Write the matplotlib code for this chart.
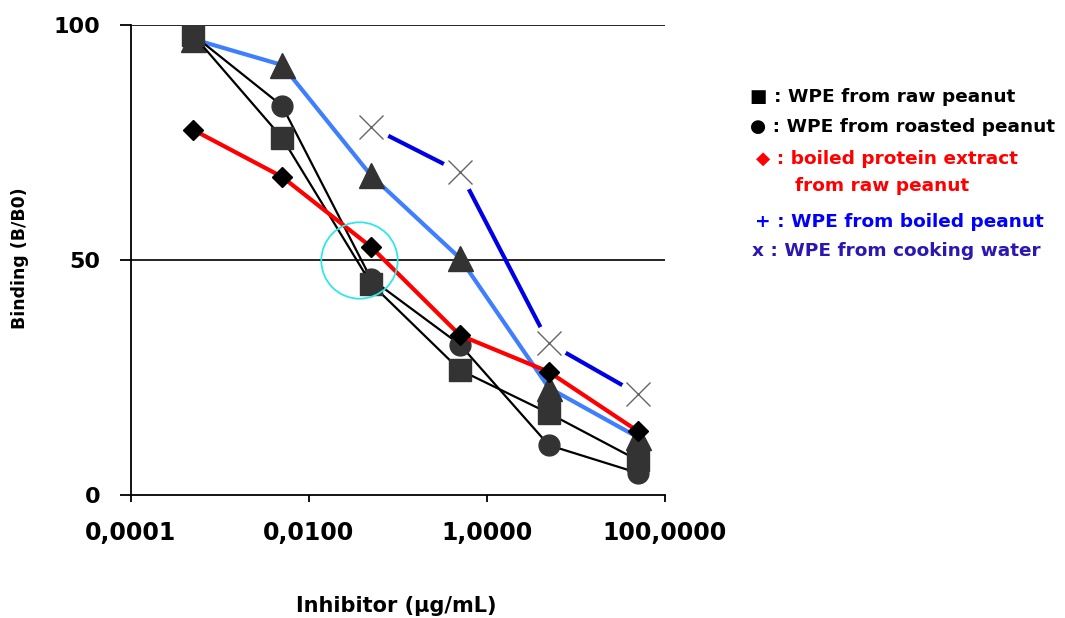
import numpy as np
import matplotlib
matplotlib.use("Agg")
import matplotlib.pyplot as plt

plt.rcParams['font.family'] = ['DejaVu Sans']

# inhibitor concentration (ug/mL)
conc = [0.0005, 0.005, 0.05, 0.5, 5, 50]
conc_water = [0.05, 0.5, 5, 50]

raw_peanut = [97.9, 76, 45, 26.6, 17.4, 7.4]
roasted_peanut = [97.9, 82.8, 46, 32, 10.6, 4.7]
boiled_extract = [77.7, 67.7, 52.8, 34, 26.2, 13.6]
boiled_peanut = [97, 91.5, 68, 50.4, 22.8, 12.3]
cooking_water = [78.3, 68.7, 32.3, 21.5]

xticks = [0.0001, 0.01, 1, 100]
xtick_labels = ["0,0001", "0,0100", "1,0000", "100,0000"]
yticks = [0, 50, 100]

fig = plt.figure(figsize=(10.65, 6.18), dpi=100)
ax = fig.add_axes([0.123, 0.199, 0.501, 0.7605])

ax.set_xscale('log')
ax.set_xlim(0.0001, 100)
ax.set_ylim(0, 100)

# grid lines at 50 and 100
for g in [50, 100]:
    ax.axhline(g, color='black', lw=1.2, zorder=0.5)

# WPE from boiled peanut (light blue, triangles)
ax.plot(conc, boiled_peanut, color='#3f7fff', lw=3, zorder=1,
        marker='^', ms=18, mfc='#333333', mec='#333333')

# WPE from cooking water: line broken around the markers
ax.plot(conc_water, cooking_water, color='#0000e6', lw=3, zorder=1,
        marker='o', ms=26, mfc='white', mec='white')
ax.plot(conc_water, cooking_water, ls='none', zorder=1.5,
        marker='x', ms=17, mec='#666666', mew=1)

# WPE from roasted peanut (circles)
ax.plot(conc, roasted_peanut, color='black', lw=1.6, zorder=2,
        marker='o', ms=15, mfc='#333333', mec='#333333')

# WPE from raw peanut (squares)
ax.plot(conc, raw_peanut, color='black', lw=1.6, zorder=3,
        marker='s', ms=16, mfc='#333333', mec='#333333')

# boiled protein extract from raw peanut (red, diamonds)
ax.plot(conc, boiled_extract, color='#ff0000', lw=3, zorder=4,
        marker='D', ms=10, mfc='black', mec='black')

# cyan circle highlighting the 50 % crossing
ax.plot([0.037], [50], ls='none', marker='o', ms=55, mfc='none',
        mec='#33e6e6', mew=1.3, zorder=5)

for s in ['top', 'right']:
    ax.spines[s].set_visible(False)
for s in ['left', 'bottom']:
    ax.spines[s].set_linewidth(1.3)

ax.set_xticks(xticks)
ax.set_xticklabels(xtick_labels)
ax.xaxis.set_minor_locator(matplotlib.ticker.NullLocator())
ax.set_yticks(yticks)
ax.tick_params(axis='y', length=8, width=1.3, pad=14, labelsize=16)
ax.tick_params(axis='x', length=5, width=1.3, pad=14, labelsize=17)
for lab in ax.get_xticklabels() + ax.get_yticklabels():
    lab.set_fontweight('bold')

fig.text(20 / 1065, 1 - 258 / 618, "Binding (B/B0)", rotation=90, fontsize=12.5,
         fontweight='bold', ha='center', va='center')
fig.text(396 / 1065, 1 - 606 / 618, "Inhibitor (\u00b5g/mL)", fontsize=15,
         fontweight='bold', ha='center', va='center')

# legend written as text
legend_lines = [
    (750, 97, "\u25a0 : WPE from raw peanut", 'black'),
    (750, 127, "\u25cf : WPE from roasted peanut", 'black'),
    (756, 159, "\u25c6 : boiled protein extract", '#ff0000'),
    (795, 186, "from raw peanut", '#ff0000'),
    (755, 222, "+ : WPE from boiled peanut", '#0000ff'),
    (752, 251, "x : WPE from cooking water", '#2a18b0'),
]
for px, py, txt, col in legend_lines:
    fig.text(px / 1065, 1 - py / 618, txt, color=col, fontsize=13.3,
             fontweight='bold', ha='left', va='center')

fig.savefig("out.png", dpi=100)
